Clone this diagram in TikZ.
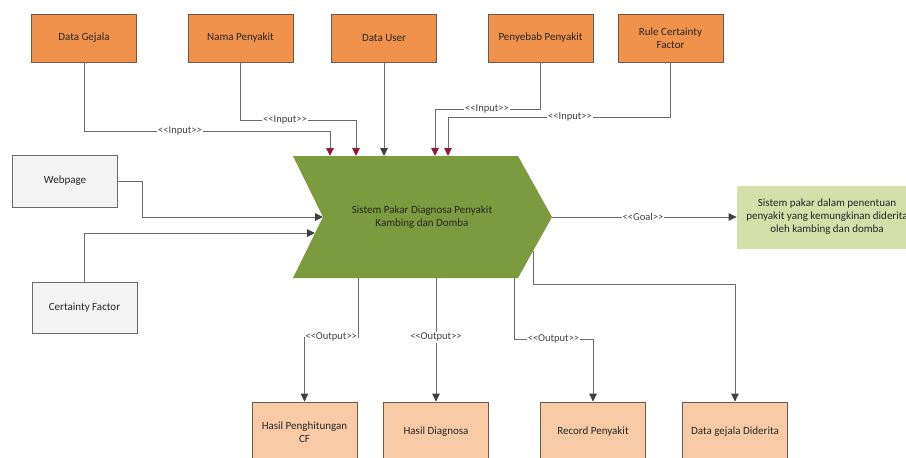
\documentclass[tikz,border=0pt]{standalone}
\usepackage{fontspec}
\setmainfont{Carlito}
\usetikzlibrary{arrows.meta}
\definecolor{oranye}{HTML}{F0924C}
\definecolor{tepi}{HTML}{6F5A48}
\definecolor{peach}{HTML}{F8CBA6}
\definecolor{hijau}{HTML}{7C9A3E}
\definecolor{hijaumuda}{HTML}{D5DFA9}
\definecolor{abu}{HTML}{F3F3F3}
\definecolor{garis}{HTML}{6B6B6B}
\definecolor{merah}{HTML}{8E1B35}
\newcommand\stereo[1]{<\kern0pt<#1>\kern0pt>}
\begin{document}
\begin{tikzpicture}[x=1pt, y=-1pt, font=\fontsize{11}{13}\selectfont,
    kotak/.style={minimum width=105pt, minimum height=48pt, align=center, text=black!85, line width=.8pt},
    masuk/.style={kotak, draw=tepi, fill=oranye},
    keluar/.style={kotak, draw=tepi, fill=peach, minimum height=60pt},
    putih/.style={kotak, draw=garis, fill=abu, minimum height=52pt},
    lbl/.style={fill=white, inner sep=1pt, font=\fontsize{10.5}{12}\selectfont, text=black!75},
    con/.style={draw=garis, line width=.9pt, -{Triangle[length=8pt,width=7.5pt,color=black!75]}},
    conr/.style={con, -{Triangle[length=8pt,width=7.5pt,color=merah]}}]
  \useasboundingbox (0,0) rectangle (906,458);
  \clip (0,0) rectangle (906,458);

  % sistem
  \fill[hijau] (293,156) -- (518,156) -- (552,217) -- (518,278) -- (293,278) -- (323,217) -- cycle;
  \node[align=center, text=black!85] (sistem) at (422,217) {Sistem Pakar Diagnosa Penyakit\\Kambing dan Domba};
  \coordinate (tip) at (552,217);
  \coordinate (notch) at (323,217);
  \coordinate (cfin) at (315,233);
  \foreach \n/\x in {in1/330,in2/356,in3/384,in4/435,in5/448}
    \coordinate (\n) at (\x,156);
  \foreach \n/\x in {o1/358,o2/436,o3/514}
    \coordinate (\n) at (\x,278);
  \coordinate (o4) at (533,251);

  % input
  \foreach \n/\x/\t in {gejala/84/Data Gejala, nama/240.5/Nama Penyakit, user/384/Data User,
      penyebab/540.5/Penyebab Penyakit, rule/670.5/{Rule Certainty\\Factor}}
    \node[masuk] (\n) at (\x,38) {\t};

  \node[lbl] (lg) at (180,131) {\stereo{Input}};
  \node[lbl] (ln) at (285,120) {\stereo{Input}};
  \node[lbl] (lp) at (487,109) {\stereo{Input}};
  \node[lbl] (lr) at (570,117) {\stereo{Input}};
  \draw[conr] (gejala) |- (lg) -| (in1);
  \draw[conr] (nama) |- (ln) -| (in2);
  \draw[con] (user) -- (in3);
  \draw[conr] (penyebab) |- (lp) -| (in4);
  \draw[conr] (rule) |- (lr) -| (in5);

  % kiri
  \node[putih] (web) at (65,181) {Webpage};
  \node[putih, minimum height=51pt] (cf) at (84.5,307.5) {Certainty Factor};
  \draw[con] (web.east) -- ++(25,0) |- (notch);
  \draw[con] (cf) |- (cfin);

  % goal
  \node[kotak, fill=hijaumuda, minimum width=180pt, minimum height=63pt] (tujuan) at (827,217)
    {Sistem pakar dalam penentuan\\penyakit yang kemungkinan diderita\\oleh kambing dan domba};
  \node[lbl] (lgo) at (643,217) {\stereo{Goal}};
  \draw[con] (tip) -- (lgo) -- (tujuan);

  % output
  \foreach \n/\x/\t in {hcf/304.5/{Hasil Penghitungan\\CF}, hdiag/436/Hasil Diagnosa,
      record/593/Record Penyakit, diderita/735/Data gejala Diderita}
    \node[keluar] (\n) at (\x,432) {\t};

  \coordinate (b1) at (304.5,337);
  \coordinate (b3) at (593,339);
  \coordinate (b4) at (735,284);
  \draw[con] (o1) |- node[lbl, pos=.75] {\stereo{Output}} (b1) -- (hcf);
  \draw[con] (o2) -- node[lbl, pos=.48] {\stereo{Output}} (hdiag);
  \draw[con] (o3) |- node[lbl, pos=.75] {\stereo{Output}} (b3) -- (record);
  \draw[con] (o4) |- (b4) -- (diderita);

\end{tikzpicture}
\end{document}
